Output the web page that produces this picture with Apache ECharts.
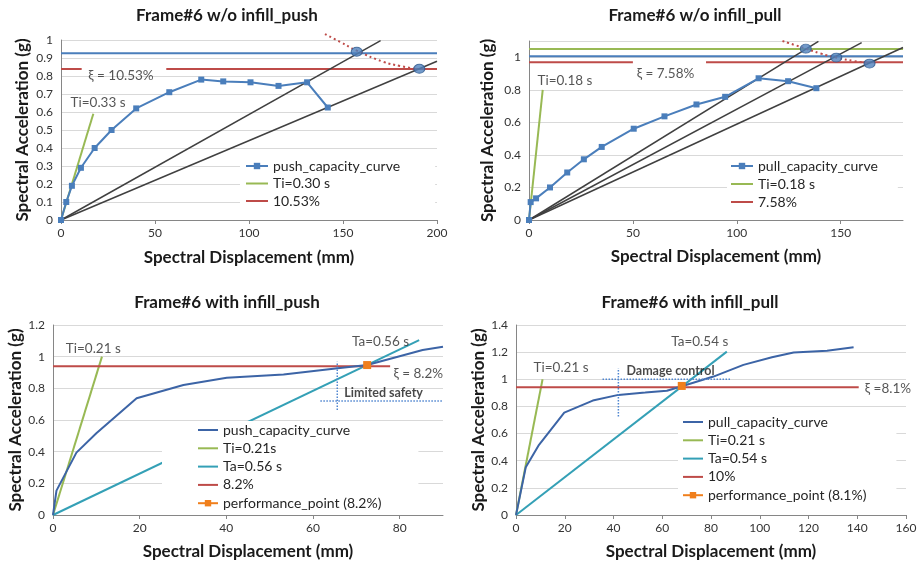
<!DOCTYPE html>
<html>
<head>
<meta charset="utf-8">
<script src="https://cdn.jsdelivr.net/npm/echarts@6/dist/echarts.min.js"></script>
<style>
  html, body { margin: 0; background: #fff; }
  #chart { width: 921px; height: 563px; }
</style>
</head>
<body>
<div id="chart"></div>
<script>
// ---- Frame#6 w/o infill_push ----
const p1Disp = [0, 2.8, 5.8, 10.6, 17.9, 26.9, 40.0, 57.6, 74.6, 86.3, 100.8, 115.7, 130.9, 141.9];
const p1Acc = [0, 0.10, 0.19, 0.29, 0.40, 0.50, 0.62, 0.71, 0.78, 0.77, 0.765, 0.745, 0.765, 0.625];
const p1TiLine = [[0, 0], [17.2, 0.59]];
const p1BlueLevel = 0.926;
const p1RedLevel = 0.839;
const p1RedSpans = [[0, 11], [56, 200]];
const p1Secants = [[170, 0.996], [200, 0.882]];
const p1Demand = [[140.4, 1.033], [148.4, 0.99], [157.3, 0.941], [171.4, 0.879], [180.3, 0.856], [190, 0.837]];
const p1Hits = [[157.3, 0.935], [190.6, 0.84]];
const p1Notes = [['Ti=0.33 s', 19.7, 0.65], ['ξ = 10.53%', 31.9, 0.80]];

// ---- Frame#6 w/o infill_pull ----
const p2Disp = [0, 0.8, 3.4, 10.1, 18.4, 26.4, 35.0, 50.4, 65.2, 80.6, 94.4, 110.5, 124.7, 138.3];
const p2Acc = [0, 0.11, 0.133, 0.2, 0.292, 0.373, 0.449, 0.561, 0.637, 0.71, 0.757, 0.871, 0.853, 0.81];
const p2TiLine = [[0, 0], [6.6, 0.80]];
const p2GreenLevel = 1.051;
const p2BlueLevel = 1.006;
const p2RedLevel = 0.969;
const p2RedSpans = [[0, 50], [85.2, 180]];
const p2Secants = [[139.3, 1.098], [160.1, 1.09], [180, 1.06]];
const p2Demand = [[122, 1.10], [133.2, 1.053], [140.4, 1.023], [147.9, 0.998], [156.4, 0.977], [163.9, 0.962]];
const p2Hits = [[133.2, 1.053], [147.9, 0.998], [163.9, 0.961]];
const p2Notes = [['Ti=0.18 s', 17.3, 0.859], ['ξ = 7.58%', 65.7, 0.902]];

// ---- Frame#6 with infill_push ----
const p3Disp = [0, 0.8, 5.4, 10.0, 19.3, 30.1, 40.1, 53.2, 65.2, 72.5, 80.2, 85.3, 90];
const p3Acc = [0, 0.154, 0.394, 0.516, 0.737, 0.821, 0.867, 0.888, 0.926, 0.947, 1.004, 1.042, 1.063];
const p3TiLine = [[0, 0], [11.3, 1.0]];
const p3TaLine = [[0, 0], [84.5, 1.105]];
const p3RedLine = [[0, 0.939], [77.8, 0.939]];
const p3Perf = [[72.5, 0.947]];
const p3CrossV = [[65.6, 0.663], [65.6, 0.968]];
const p3CrossH = [[61.7, 0.72], [90, 0.72]];
const p3Notes = [['Ti=0.21 s', 9.3, 1.049], ['Ta=0.56 s', 75.6, 1.093], ['ξ = 8.2%', 84.3, 0.891]];
const p3BoldNotes = [['Limited safety', 76.3, 0.771]];

// ---- Frame#6 with infill_pull ----
const p4Disp = [0, 4.0, 9.2, 19.8, 31.5, 42.0, 53.0, 61.9, 68.4, 81.0, 93.3, 105, 113.9, 127.6, 138.5];
const p4Acc = [0, 0.351, 0.511, 0.754, 0.843, 0.885, 0.902, 0.916, 0.951, 1.02, 1.106, 1.162, 1.197, 1.211, 1.236];
const p4TiLine = [[0, 0], [10.9, 1.0]];
const p4TaLine = [[0, 0], [86.5, 1.204]];
const p4RedLine = [[0, 0.941], [140.6, 0.941]];
const p4Perf = [[68.0, 0.951]];
const p4CrossV = [[42.0, 0.725], [42.0, 1.081]];
const p4CrossH = [[35.5, 1.0], [87.9, 1.0]];
const p4Notes = [['Ta=0.54 s', 75.4, 1.275], ['Ti=0.21 s', 18.5, 1.083], ['ξ =8.1%', 152.6, 0.929]];
const p4BoldNotes = [['Damage control', 63.4, 1.061]];

const FONT = 'Lato, "DejaVu Sans", sans-serif';
const BLUE = '#4a7ebb', DARKBLUE = '#3c64a6', GREEN = '#98b954', RED = '#be4b48';
const TEAL = '#34a0b6', ORANGE = '#f07f1c', BLACK = '#404040';

const zip = (xs, ys) => xs.map((x, i) => [x, ys[i]]);

function line(name, g, data, color, width, extra) {
  return Object.assign({
    type: 'line', name: name, xAxisIndex: g, yAxisIndex: g, data: data,
    symbol: 'none', lineStyle: { color: color, width: width }, itemStyle: { color: color },
    emphasis: { disabled: true }, animation: false, z: 2
  }, extra || {});
}
function level(name, g, y, spans, color) {
  return spans.map((s, i) => line(i === 0 ? name : name + '|' + i, g, [[s[0], y], [s[1], y]], color, 2));
}
function secants(g, ends) {
  return ends.map((e, i) => line('secant|' + g + i, g, [[0, 0], e], BLACK, 1.5));
}
function hits(g, pts) {
  return {
    type: 'scatter', name: 'hit|' + g, xAxisIndex: g, yAxisIndex: g, data: pts,
    symbol: 'circle', symbolSize: [11, 9], animation: false, z: 3,
    itemStyle: { color: '#4f81bd', borderColor: '#2f5a8f', borderWidth: 1 }
  };
}
function notes(g, list, bold) {
  return {
    type: 'scatter', name: 'note|' + g + (bold ? 'b' : ''), xAxisIndex: g, yAxisIndex: g,
    data: list.map(n => ({ name: n[0], value: [n[1], n[2]] })),
    symbolSize: 0.1, itemStyle: { color: 'transparent' }, animation: false, silent: true, z: 5,
    label: {
      show: true, position: 'inside', formatter: '{b}', fontFamily: FONT,
      fontSize: bold ? 12.5 : 13.5, fontWeight: bold ? 'bold' : 'normal', color: bold ? '#1a1a1a' : '#2b2b2b'
    }
  };
}
const dotted = (name, g, data, color) =>
  line(name, g, data, color, 1.5, { lineStyle: { color: color, width: 1.5, type: 'dotted' } });

const capStyle = { symbol: 'rect', symbolSize: 6, showSymbol: true };

const series = [
  // panel 1
  line('h|p1blue', 0, [[0, p1BlueLevel], [200, p1BlueLevel]], BLUE, 2),
  ...level('10.53%', 0, p1RedLevel, p1RedSpans, RED),
  ...secants(0, p1Secants),
  line('Ti=0.30 s', 0, p1TiLine, GREEN, 2),
  line('push_capacity_curve', 0, zip(p1Disp, p1Acc), BLUE, 2, capStyle),
  hits(0, p1Hits),
  line('demand|0', 0, p1Demand, RED, 2, { smooth: true, clip: false, lineStyle: { color: RED, width: 2, type: [2, 3] } }),
  notes(0, p1Notes),
  // panel 2
  line('h|p2green', 1, [[0, p2GreenLevel], [180, p2GreenLevel]], GREEN, 2),
  line('h|p2blue', 1, [[0, p2BlueLevel], [180, p2BlueLevel]], BLUE, 2),
  ...level('7.58%', 1, p2RedLevel, p2RedSpans, RED),
  ...secants(1, p2Secants),
  line('Ti=0.18 s', 1, p2TiLine, GREEN, 2),
  line('pull_capacity_curve', 1, zip(p2Disp, p2Acc), BLUE, 2, capStyle),
  hits(1, p2Hits),
  line('demand|1', 1, p2Demand, RED, 2, { smooth: true, clip: false, lineStyle: { color: RED, width: 2, type: [2, 3] } }),
  notes(1, p2Notes),
  // panel 3
  line('Ti=0.21s', 2, p3TiLine, GREEN, 2),
  line('Ta=0.56 s', 2, p3TaLine, TEAL, 2),
  line('8.2%', 2, p3RedLine, RED, 2),
  line('push_capacity_curve|3', 2, zip(p3Disp, p3Acc), DARKBLUE, 2),
  dotted('cross|3v', 2, p3CrossV, '#4f86d0'),
  dotted('cross|3h', 2, p3CrossH, '#4f86d0'),
  line('performance_point (8.2%)', 2, p3Perf, ORANGE, 2, { symbol: 'rect', symbolSize: 8, z: 4 }),
  notes(2, p3Notes),
  notes(2, p3BoldNotes, true),
  // panel 4
  line('Ti=0.21 s', 3, p4TiLine, GREEN, 2),
  line('Ta=0.54 s', 3, p4TaLine, TEAL, 2),
  line('10%', 3, p4RedLine, RED, 2),
  line('pull_capacity_curve|4', 3, zip(p4Disp, p4Acc), DARKBLUE, 2),
  dotted('cross|4v', 3, p4CrossV, '#4f86d0'),
  dotted('cross|4h', 3, p4CrossH, '#4f86d0'),
  line('performance_point (8.1%)', 3, p4Perf, ORANGE, 2, { symbol: 'rect', symbolSize: 8, z: 4 }),
  notes(3, p4Notes),
  notes(3, p4BoldNotes, true)
];

const grids = [
  { left: 61, top: 40, width: 376, height: 180 },
  { left: 529, top: 41, width: 374, height: 179 },
  { left: 53, top: 325, width: 390, height: 190 },
  { left: 516, top: 325, width: 390, height: 190 }
].map(g => Object.assign({ containLabel: false, outerBoundsMode: 'none' }, g));

const axisName = { fontFamily: FONT, fontSize: 17, fontWeight: 'bold', color: '#1a1a1a' };
const tickLabel = { fontFamily: FONT, fontSize: 12, color: '#333' };

function xAxis(g, max, interval, gap) {
  return {
    gridIndex: g, type: 'value', min: 0, max: max, interval: interval,
    name: 'Spectral Displacement (mm)', nameLocation: 'middle', nameGap: gap, nameTextStyle: axisName,
    axisLine: { show: true, onZero: false, lineStyle: { color: '#868686' } },
    axisTick: { show: true, length: 4, lineStyle: { color: '#868686' } },
    axisLabel: Object.assign({ margin: 7, showMaxLabel: max % interval === 0 }, tickLabel),
    splitLine: { show: false }
  };
}
function yAxis(g, max, interval, gap) {
  return {
    gridIndex: g, type: 'value', min: 0, max: max, interval: interval,
    name: 'Spectral Acceleration (g)', nameLocation: 'middle', nameGap: gap, nameTextStyle: axisName,
    axisLine: { show: true, lineStyle: { color: '#868686' } },
    axisTick: { show: false },
    axisLabel: Object.assign({ margin: 8, showMaxLabel: Math.abs(max / interval - Math.round(max / interval)) < 1e-6 }, tickLabel),
    splitLine: { show: true, lineStyle: { color: '#d9d9d9', width: 1 } }
  };
}

// line-only legend entries hide the default circle marker
const markerless = new Set(['Ti=0.30 s', '10.53%', 'Ti=0.18 s', '7.58%', 'push_capacity_curve|3', 'Ti=0.21s',
  'Ta=0.56 s', '8.2%', 'pull_capacity_curve|4', 'Ti=0.21 s', 'Ta=0.54 s', '10%']);

function legend(items, left, top, padding, itemWidth, gap) {
  return {
    data: items.map(n => markerless.has(n) ? { name: n, itemStyle: { opacity: 0 } } : { name: n }),
    orient: 'vertical', left: left, top: top, padding: padding,
    itemWidth: itemWidth, itemHeight: 8, itemGap: gap, backgroundColor: '#fff',
    selectedMode: false, formatter: n => n.split('|')[0],
    textStyle: { fontFamily: FONT, fontSize: 14, color: '#262626' }
  };
}

const titles = [
  ['Frame#6 w/o infill_push', 227, 16],
  ['Frame#6 w/o infill_pull', 695, 16],
  ['Frame#6 with infill_push', 227, 303],
  ['Frame#6 with infill_pull', 690, 303]
];

const chart = echarts.init(document.getElementById('chart'), null, { renderer: 'canvas' });
chart.setOption({
  animation: false,
  backgroundColor: '#fff',
  grid: grids,
  xAxis: [xAxis(0, 200, 50, 29), xAxis(1, 180, 50, 28), xAxis(2, 90, 20, 28), xAxis(3, 160, 20, 28)],
  yAxis: [yAxis(0, 1, 0.1, 30), yAxis(1, 1.1, 0.2, 33), yAxis(2, 1.2, 0.2, 29), yAxis(3, 1.4, 0.2, 29)],
  legend: [
    legend(['push_capacity_curve', 'Ti=0.30 s', '10.53%'], 240, 156, [3, 35, 5, 5], 22, 3.5),
    legend(['pull_capacity_curve', 'Ti=0.18 s', '7.58%'], 727, 156, [3, 20, 5, 3], 22, 4),
    legend(['push_capacity_curve|3', 'Ti=0.21s', 'Ta=0.56 s', '8.2%', 'performance_point (8.2%)'], 162, 421, [2, 37, 3, 35], 20, 4.3),
    legend(['pull_capacity_curve|4', 'Ti=0.21 s', 'Ta=0.54 s', '10%', 'performance_point (8.1%)'], 678, 413, [2, 30, 3, 4], 20, 4.3)
  ],
  graphic: titles.map(t => ({
    type: 'text', x: t[1], y: t[2], silent: true,
    style: { text: t[0], align: 'center', verticalAlign: 'middle', font: 'bold 17px ' + FONT, fill: '#1a1a1a' }
  })),
  series: series
});
</script>
</body>
</html>
